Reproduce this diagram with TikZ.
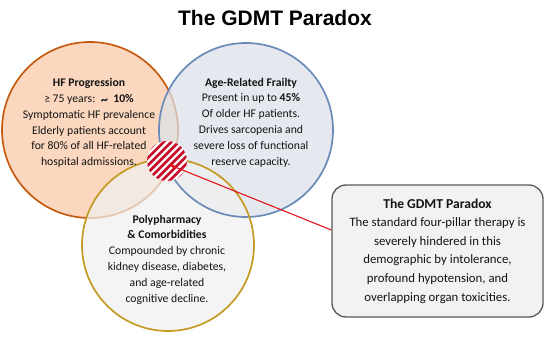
\documentclass[tikz,border=0pt]{standalone}
\usepackage{fontspec}
\setmainfont{Carlito}
\newfontfamily\titlefont{Liberation Sans}
\usetikzlibrary{calc,arrows.meta}
\definecolor{orgline}{HTML}{C55A11}
\definecolor{orgfill}{HTML}{FAD7BE}
\definecolor{blueline}{HTML}{6A8AB8}
\definecolor{bluefill}{HTML}{DCE1EA}
\definecolor{yelline}{HTML}{C49A22}
\definecolor{yelfill}{HTML}{F0F0F0}
\definecolor{boxfill}{HTML}{F2F2F2}
\definecolor{boxline}{HTML}{595959}
\definecolor{hatchred}{HTML}{C8102E}
\definecolor{arrowred}{HTML}{E0161B}
\definecolor{txt}{HTML}{141414}
\tikzset{
  venn/.style={circle, minimum size=176pt, inner sep=0pt, line width=1.7pt},
  circtext/.style={align=center, text=txt, font=\fontsize{11.7}{15.8}\selectfont, inner sep=0pt},
  paradoxbox/.style={rounded corners=14pt, minimum width=211pt, minimum height=132pt,
     fill=boxfill, draw=boxline, line width=1.3pt, align=center, text=txt,
     font=\fontsize{12.8}{18.6}\selectfont},
  redarrow/.style={draw=arrowred, line width=1.1pt, -{Stealth[length=5pt,width=4.5pt]}},
}
\begin{document}
\begin{tikzpicture}[x=1pt,y=-1pt]
\useasboundingbox (0,0) rectangle (550,339);
\fill[white] (0,0) rectangle (550,339);
% title
\node[font=\titlefont\bfseries\fontsize{21}{24}\selectfont] (title) at (275,18) {The GDMT Paradox};
% circles: orange first
\node[venn, fill=orgfill, draw=orgline] (hfc) at (90,130) {};
\node[venn, minimum size=174pt, fill=bluefill, fill opacity=0.72] (frc) at (246,130) {};
\node[venn, minimum size=172pt, fill=yelfill, fill opacity=0.72] (polyc) at (168,245) {};
\draw[blueline, line width=1.7pt] (frc.center) circle[radius=87pt];
\draw[yelline, line width=1.7pt] (polyc.center) circle[radius=86pt];
% hatch
\node[circle, minimum size=40pt, inner sep=0pt, fill=white,
  path picture={
    \foreach \k in {-7,...,7}
      \draw[hatchred, line width=2.7pt]
        ($(path picture bounding box.center)+(\k*3.7,\k*3.7)$) +(-30,30) -- +(30,-30);
  }] (hatch) at (167,161) {};
% texts
\node[circtext] (hftxt) at (89,123) {\textbf{HF Progression}\\
  ≥ 75 years:\, \textbf{{\Large\raisebox{-0.25ex}{\textasciitilde}}\ \ 10\%}\\
  Symptomatic HF prevalence\\ Elderly patients account\\ for 80\% of all HF-related\\ hospital admissions.};
\node[circtext] (frtxt) at (251,122.5) {\textbf{Age-Related Frailty}\\
  Present in up to \textbf{45\%}\\ Of older HF patients.\\ Drives sarcopenia and\\
  severe loss of functional\\ reserve capacity.};
\node[circtext] (polytxt) at (167,259.5) {\textbf{Polypharmacy}\\ \textbf{\& Comorbidities}\\
  Compounded by chronic\\ kidney disease, diabetes,\\ and age-related\\ cognitive decline.};
% box
\node[paradoxbox] (box) at (437.5,251) {\textbf{\fontsize{13.6}{18.6}\selectfont The GDMT Paradox}\\
  The standard four-pillar therapy is\\ severely hindered in this\\
  demographic by intolerance,\\ profound hypotension, and\\ overlapping organ toxicities.};
% arrow
\coordinate (from) at ($(box.west)+(0,-21)$);
\coordinate (tip) at ($(hatch.center)+(3,4)$);
\draw[redarrow] (from) -- (tip);
\end{tikzpicture}
\end{document}
